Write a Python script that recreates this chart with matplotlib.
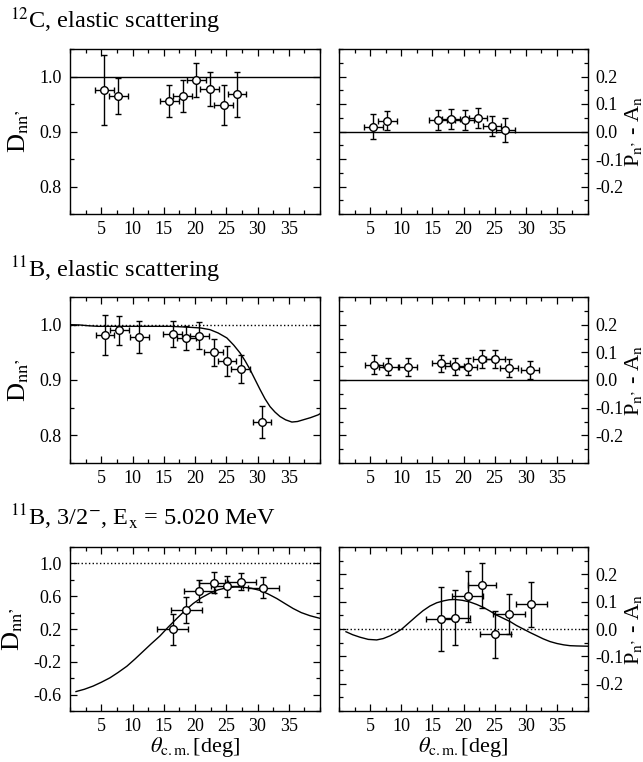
import matplotlib
matplotlib.use("Agg")
import matplotlib.pyplot as plt
from matplotlib.ticker import MultipleLocator, FormatStrFormatter

plt.rcParams['font.family'] = ['Liberation Serif', 'DejaVu Serif']
plt.rcParams['mathtext.fontset'] = 'stix'
plt.rcParams['axes.unicode_minus'] = False

# ---------------- data ----------------
# 12C elastic
c12_x = [5.5, 7.75, 15.9, 18.0, 20.2, 22.35, 24.6, 26.7]
c12_xerr = [1.5, 1.5, 1.5, 1.5, 1.5, 1.5, 1.5, 1.5]
c12_dnn = [0.975, 0.964, 0.956, 0.965, 0.993, 0.978, 0.948, 0.968]
c12_dnn_err = [0.064, 0.033, 0.029, 0.029, 0.031, 0.031, 0.037, 0.041]
c12_pa = [0.018, 0.040, 0.042, 0.045, 0.042, 0.048, 0.020, 0.006]
c12_pa_err = [0.045, 0.034, 0.035, 0.036, 0.036, 0.036, 0.038, 0.043]

# 11B elastic
b11_x = [5.6, 7.9, 11.1, 16.4, 18.6, 20.7, 23.0, 25.1, 27.3, 30.7]
b11_xerr = [1.5] * 10
b11_dnn = [0.981, 0.990, 0.977, 0.983, 0.976, 0.980, 0.950, 0.935, 0.920, 0.824]
b11_dnn_err = [0.036, 0.026, 0.029, 0.023, 0.021, 0.024, 0.025, 0.027, 0.025, 0.029]
b11_pa = [0.055, 0.048, 0.048, 0.060, 0.050, 0.048, 0.077, 0.077, 0.044, 0.036]
b11_pa_err = [0.035, 0.030, 0.032, 0.030, 0.031, 0.030, 0.032, 0.032, 0.032, 0.033]
b11_th_x = [0.0, 1.5, 3.0, 4.5, 6.0, 8.0, 12.0, 16.0, 18.0, 19.5, 20.9, 22.4,
            23.7, 25.1, 26.2, 27.2, 28.0, 28.8, 29.6, 30.4, 31.2, 32.0, 32.8,
            33.6, 34.5, 35.5, 36.4, 37.3, 38.5, 39.7, 40.0]
b11_th_dnn = [1.0, 0.9995, 0.998, 0.997, 0.997, 0.997, 0.997, 0.997, 0.996,
              0.995, 0.994, 0.991, 0.985, 0.976, 0.963, 0.949, 0.935, 0.919,
              0.901, 0.883, 0.866, 0.852, 0.842, 0.834, 0.828, 0.824, 0.825,
              0.828, 0.832, 0.837, 0.839]

# 11B 3/2- Ex = 5.020 MeV
ex_x = [16.4, 18.6, 20.7, 23.0, 25.1, 27.3, 30.9]
ex_xerr = [2.5, 2.5, 2.5, 2.3, 2.5, 2.5, 2.5]
ex_dnn = [0.196, 0.429, 0.662, 0.767, 0.719, 0.779, 0.703]
ex_dnn_err = [0.19, 0.157, 0.13, 0.125, 0.13, 0.10, 0.127]
ex_pa = [0.035, 0.042, 0.120, 0.160, -0.019, 0.055, 0.091]
ex_pa_err = [0.117, 0.100, 0.093, 0.083, 0.086, 0.073, 0.082]
ex_th_x = [0.96, 2.3, 3.7, 5.0, 6.4, 7.7, 9.1, 10.4, 11.7, 13.0, 14.4, 15.7,
           17.1, 18.4, 19.7, 21.0, 22.4, 23.7, 25.1, 26.4, 27.7, 29.0, 30.4,
           31.7, 33.1, 34.4, 35.7, 37.0, 38.4, 40.0]
ex_th_dnn = [-0.563, -0.535, -0.496, -0.450, -0.395, -0.330, -0.254, -0.166,
             -0.073, 0.020, 0.116, 0.222, 0.329, 0.425, 0.510, 0.580, 0.638,
             0.678, 0.703, 0.712, 0.710, 0.697, 0.671, 0.627, 0.571, 0.510,
             0.450, 0.400, 0.362, 0.330]
ex_th_pa_x = [1.12, 2.2, 3.37, 4.7, 6.05, 7.1, 8.2, 9.2, 10.1, 11.3, 12.5,
              13.5, 14.6, 15.7, 16.8, 17.7, 18.6, 19.8, 21.0, 22.1, 23.2, 24.3,
              25.3, 26.4, 27.5, 28.5, 29.6, 30.7, 31.8, 32.8, 33.9, 35.0, 36.1,
              37.1, 38.2, 40.0]
ex_th_pa = [-0.010, -0.021, -0.030, -0.038, -0.040, -0.035, -0.025, -0.013,
            0.0, 0.024, 0.048, 0.067, 0.084, 0.096, 0.103, 0.107, 0.108, 0.105,
            0.099, 0.090, 0.079, 0.065, 0.051, 0.039, 0.027, 0.013, 0.0, -0.013,
            -0.025, -0.036, -0.046, -0.053, -0.058, -0.061, -0.062, -0.063]

titles = [r"$^{12}$C, elastic scattering",
          r"$^{11}$B, elastic scattering",
          r"$^{11}$B, 3/2$^{-}$, E$_{\mathrm{x}}$ = 5.020 MeV"]

# ---------------- figure ----------------
fig = plt.figure(figsize=(6.43, 7.62), dpi=100)
W, H = 643, 762


def ax_at(x0, y0, x1, y1):
    return fig.add_axes([x0 / W, 1 - y1 / H, (x1 - x0) / W, (y1 - y0) / H])


rows_px = [(49, 214), (297, 463), (547, 711)]
title_y = [28, 277, 525]

tick_fs = 13
lab_fs = 19


def style(ax, right=False):
    ax.set_xlim(0, 40)
    ax.set_xticks([5, 10, 15, 20, 25, 30, 35])
    ax.xaxis.set_minor_locator(MultipleLocator(2.5))
    ax.xaxis.set_major_formatter(FormatStrFormatter('%d'))
    ax.tick_params(which='both', direction='in', top=True, bottom=True,
                   left=True, right=True, labelsize=tick_fs, width=0.9)
    ax.tick_params(which='major', length=5)
    ax.tick_params(which='minor', length=3)
    ax.tick_params(axis='x', pad=5)
    for s in ax.spines.values():
        s.set_linewidth(1.0)
    if right:
        ax.yaxis.tick_right()
        ax.tick_params(axis='y', which='both', left=True, right=True,
                       labelleft=False, labelright=True, pad=5)
        ax.yaxis.set_label_position('right')
        ax.set_ylabel("P$_{\\mathrm{n\u2019}}$ - A$_{\\mathrm{n}}$", fontsize=16,
                      labelpad=0, rotation=90)
    else:
        ax.tick_params(axis='y', pad=6)
        ax.set_ylabel("D$_{\\mathrm{nn\u2019}}$", fontsize=lab_fs, labelpad=6)


def points(ax, x, y, xe, ye):
    ax.errorbar(x, y, xerr=xe, yerr=ye, fmt='o', color='black', ecolor='black',
                elinewidth=1.0, capsize=2.5, capthick=1.0, markersize=5.5,
                markerfacecolor='white', markeredgecolor='black',
                markeredgewidth=1.0, zorder=5)


data = [
    dict(x=c12_x, xe=c12_xerr, d=c12_dnn, de=c12_dnn_err, p=c12_pa, pe=c12_pa_err,
         ref_d=('-', 1.0), ref_p=('-', 0.0), thd=None, thp=None,
         dlim=(0.75, 1.05), big=False),
    dict(x=b11_x, xe=b11_xerr, d=b11_dnn, de=b11_dnn_err, p=b11_pa, pe=b11_pa_err,
         ref_d=(':', 1.0), ref_p=('-', 0.0), thd=(b11_th_x, b11_th_dnn), thp=None,
         dlim=(0.75, 1.05), big=False),
    dict(x=ex_x, xe=ex_xerr, d=ex_dnn, de=ex_dnn_err, p=ex_pa, pe=ex_pa_err,
         ref_d=(':', 1.0), ref_p=(':', 0.0), thd=(ex_th_x, ex_th_dnn),
         thp=(ex_th_pa_x, ex_th_pa), dlim=(-0.8, 1.2), big=True),
]

for i, (r, dd) in enumerate(zip(rows_px, data)):
    y0, y1 = r
    axl = ax_at(70, y0, 320, y1)
    axr = ax_at(339, y0, 588, y1)

    # left: D_nn'
    style(axl)
    axl.set_ylim(*dd['dlim'])
    if dd['big']:
        axl.set_yticks([-0.6, -0.2, 0.2, 0.6, 1.0])
        axl.yaxis.set_minor_locator(MultipleLocator(0.2))
    else:
        axl.set_yticks([0.8, 0.9, 1.0])
        axl.yaxis.set_minor_locator(MultipleLocator(0.05))
    axl.yaxis.set_major_formatter(FormatStrFormatter('%.1f'))
    axl.axhline(dd['ref_d'][1], color='black', lw=1.0, ls=dd['ref_d'][0],
                zorder=1)
    if dd['thd'] is not None:
        axl.plot(dd['thd'][0], dd['thd'][1], color='black', lw=1.0, zorder=2)
    points(axl, dd['x'], dd['d'], dd['xe'], dd['de'])

    # right: Pn' - An
    style(axr, right=True)
    axr.set_ylim(-0.3, 0.3)
    axr.set_yticks([-0.2, -0.1, 0.0, 0.1, 0.2])
    axr.yaxis.set_minor_locator(MultipleLocator(0.05))
    axr.yaxis.set_major_formatter(FormatStrFormatter('%.1f'))
    axr.axhline(dd['ref_p'][1], color='black', lw=1.0, ls=dd['ref_p'][0],
                zorder=1)
    if dd['thp'] is not None:
        axr.plot(dd['thp'][0], dd['thp'][1], color='black', lw=1.0, zorder=2)
    points(axr, dd['x'], dd['p'], dd['xe'], dd['pe'])

    if i == 2:
        axl.set_xlabel(r"$\theta_{\mathrm{c.m.}}$[deg]", fontsize=16, labelpad=0)
        axr.set_xlabel(r"$\theta_{\mathrm{c.m.}}$[deg]", fontsize=16, labelpad=0)

    fig.text(10 / W, 1 - title_y[i] / H, titles[i], fontsize=17.5,
             ha='left', va='baseline')

fig.savefig("out.png", dpi=100)
